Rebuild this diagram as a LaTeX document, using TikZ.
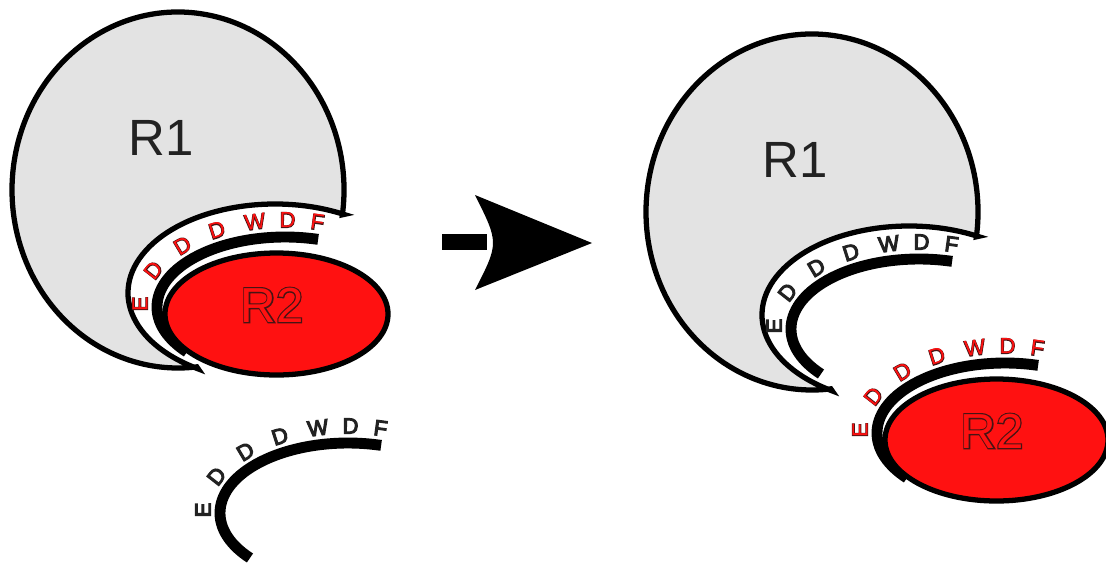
\documentclass[tikz,border=0pt]{standalone}
\usepackage{fontspec}
\setmainfont{Liberation Sans}
\newfontfamily\strokefont{Liberation Sans}[FakeBold=5]
\usetikzlibrary{calc}
\definecolor{roneGray}{RGB}{227,227,227}
\definecolor{rtwoRed}{RGB}{255,17,17}
\definecolor{inkGray}{RGB}{34,34,34}
\definecolor{edgeRed}{RGB}{70,20,20}
\begin{document}
\begin{tikzpicture}[x=0.02cm,y=-0.02cm,
	roneshape/.style={fill=roneGray,draw=black,line width=3pt,miter limit=4},
	rtwoshape/.style={fill=rtwoRed,draw=black,line width=3pt},
	strandline/.style={draw=black,line width=6.2pt},
	letter/.style={inner sep=0pt,font=\fontsize{12.5}{12.5}\selectfont},
	ronelabel/.style={inner sep=0pt,text=inkGray,font=\fontsize{29}{29}\selectfont},
	rtwolabel/.style={inner sep=0pt,font=\fontsize{28}{28}\selectfont}]
			\newcommand{\redletter}[1]{%
				\rlap{\strokefont\color{edgeRed}#1}{\color{rtwoRed}#1}%
			}\newcommand{\blackletter}[1]{%
				{\strokefont\color{inkGray}#1}%
			}%Shapes
			\newcommand{\rone}[1]{
				%outer hull with the pocket cut out
				\filldraw[roneshape] (178,190) ++(8:166 and 178) arc[start angle=8,end angle=-276.5,x radius=166,y radius=178]
					-- ($(275,293)+(121.5:147 and 89)$) arc[start angle=121.5,end angle=298,x radius=147,y radius=89] -- cycle;
				\node[ronelabel] (#1) at (161,138) {R1};
			}
			\newcommand{\rtwo}[1]{
				\draw[rtwoshape] (276.5,314) ellipse[x radius=111.5,y radius=61];
				\node[rtwolabel] (#1) at (272,305) {\redletter{R2}};
			}
			\newcommand{\strand}[2]{
				%the thick strand
				\draw[strandline] (285,307) ++(140:128 and 70) arc[start angle=140,end angle=285,x radius=128,y radius=70];
				%letters on the outside of the strand
				\foreach \t/\l [count=\i] in {182/E,205/D,225/D,242/D,258/W,271/D,283/F} {
					\pgfmathsetmacro{\rot}{atan2(-sin(\t)/85,cos(\t)/143)-90}
					\node[letter,rotate=\rot] (#1\i) at ($(285,307)+(\t:145 and 87)$) {#2{\l}};
				}
			}
			\useasboundingbox (0,0) rectangle (1106,566);
			%Left: R2 sits in the pocket of R1
			\rone{leftR1}
			\strand{leftS}{\redletter}
			\rtwo{leftR2}
			%Free strand
			\begin{scope}[shift={(63,206)}]
				\strand{freeS}{\blackletter}
			\end{scope}
			%The arrow
			\fill (442,234) rectangle (487,250);
			\fill (475,195) -- (592,243) -- (475,290) .. controls (499,243) .. (475,195) -- cycle;
			%Right: R1 keeps one strand, R2 leaves with the other
			\begin{scope}[shift={(634,22)}]
				\rone{rightR1}
				\strand{rightS}{\blackletter}
			\end{scope}
			\begin{scope}[shift={(720,126)}]
				\strand{rtwoS}{\redletter}
				\rtwo{rightR2}
			\end{scope}
\end{tikzpicture}
\end{document}
